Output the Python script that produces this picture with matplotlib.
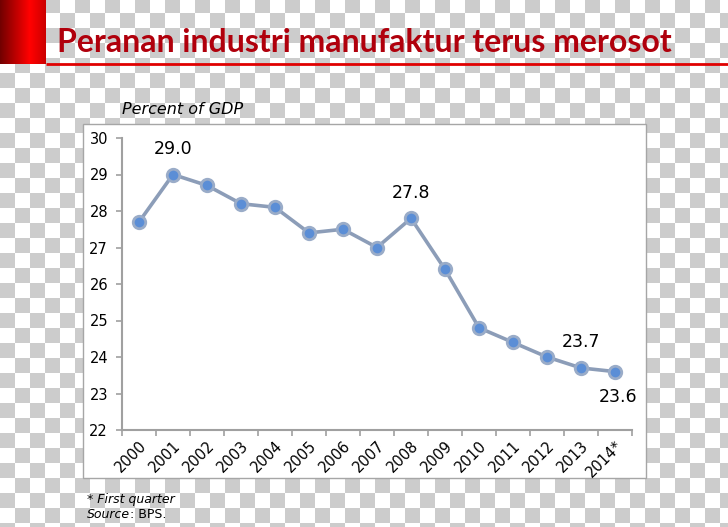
import numpy as np
import matplotlib
matplotlib.use("Agg")
import matplotlib.pyplot as plt
from matplotlib.patches import Rectangle

# ---------------------------------------------------------------- data
years = ["2000", "2001", "2002", "2003", "2004", "2005", "2006", "2007",
         "2008", "2009", "2010", "2011", "2012", "2013", "2014*"]
share = [27.7, 29.0, 28.7, 28.2, 28.1, 27.4, 27.5, 27.0,
         27.8, 26.4, 24.8, 24.4, 24.0, 23.7, 23.6]
# which points carry a value label: index -> (dx, dy) offset in points
labelled = {1: (0, 12), 8: (0, 12), 13: (0, 12), 14: (2, -25)}

title = "Peranan industri manufaktur terus merosot"
W, H = 728, 527

fig = plt.figure(figsize=(W / 100, H / 100), dpi=100)

# ---------------------------------------------------------------- background (transparency checkerboard)
bg = fig.add_axes([0, 0, 1, 1])
bg.set_axis_off()
yy, xx = np.mgrid[0:H, 0:W]
checker = (((yy + 2) // 15 + xx // 15) % 2).astype(float)
bg.imshow(checker, cmap=matplotlib.colors.ListedColormap(["white", "#cccccc"]),
          extent=[0, W, H, 0], interpolation="nearest", aspect="auto")

# red gradient bar top-left
grad = np.concatenate([np.linspace(0.45, 1.0, 30), np.linspace(1.0, 0.8, 16)])
red_img = np.zeros((1, len(grad), 3))
red_img[0, :, 0] = grad
bg.imshow(red_img, extent=[0, 46, 64, 0], aspect="auto", interpolation="bilinear")
bg.plot([46, W], [64, 64], color="#e00000", lw=2, solid_capstyle="butt")

# white chart panel
bg.add_patch(Rectangle((83, 124), 646 - 83, 478 - 124, facecolor="white",
                       edgecolor="#a6a6a6", lw=1, zorder=2))
bg.set_xlim(0, W)
bg.set_ylim(H, 0)

fig.text(57 / W, 1 - 52 / H, title, color="#b0000c", fontsize=23,
         fontweight="bold", family="Lato", va="baseline", ha="left")

# ---------------------------------------------------------------- line chart
ax = fig.add_axes([122 / W, 1 - 430 / H, (632 - 122) / W, (430 - 138) / H])
ax.patch.set_alpha(0)
x = np.arange(len(years))
ax.plot(x, share, color="#8c9db8", lw=2.6, marker="o", ms=9,
        markerfacecolor="#5b8ed6", markeredgecolor="#9aacc8", mew=2, zorder=3)

for i, (dx, dy) in labelled.items():
    ax.annotate(f"{share[i]:.1f}", (x[i], share[i]), xytext=(dx, dy),
                textcoords="offset points", ha="center", va="bottom",
                fontsize=12.5, color="black")

ax.set_xlim(-0.5, len(years) - 0.5)
ax.set_ylim(22, 30)
ax.set_yticks(range(22, 31))
ax.set_xticks(np.arange(-0.5, len(years), 1.0))
ax.set_xticklabels([])
ax.set_xticks(x, minor=True)
ax.set_xticklabels(years, minor=True, rotation=45, ha="right", va="top",
                   rotation_mode="anchor", fontsize=10.5)
ax.tick_params(axis="x", which="minor", length=0, pad=6)
ax.tick_params(axis="x", which="major", length=4, color="#a0a0a0", width=1.2)
ax.tick_params(axis="y", length=4, color="#a0a0a0", width=1.2, labelsize=10.5, pad=6)
for s in ["top", "right"]:
    ax.spines[s].set_visible(False)
for s in ["left", "bottom"]:
    ax.spines[s].set_color("#a0a0a0")
    ax.spines[s].set_linewidth(1.5)

fig.text(122 / W, 1 - 109 / H, "Percent of GDP", style="italic", fontsize=11.5,
         va="center", ha="left")

fig.text(87 / W, 1 - 500 / H, "* First quarter", style="italic", fontsize=9,
         va="center", ha="left")
t = fig.text(87 / W, 1 - 514 / H, "Source", style="italic", fontsize=9,
             va="center", ha="left")
fig.canvas.draw()
bb = t.get_window_extent()
fig.text(bb.x1 / W, 1 - 514 / H, ": BPS.", fontsize=9, va="center", ha="left")

fig.savefig("out.png", dpi=100)
